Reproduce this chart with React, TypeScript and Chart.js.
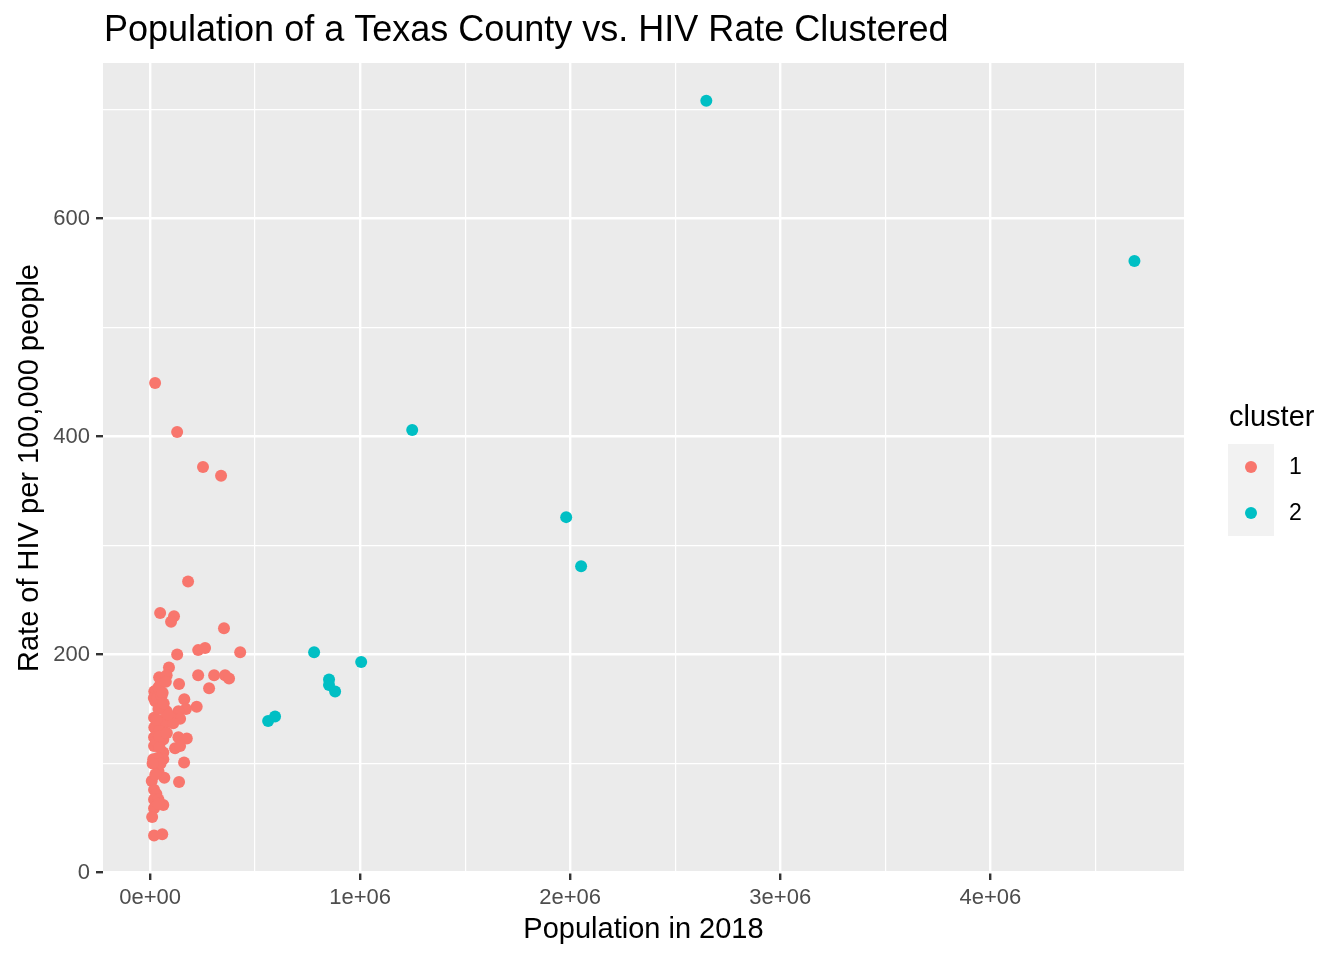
import React, { useEffect, useRef } from "react";
import { Chart, registerables } from "chart.js";

Chart.register(...registerables);

const chartTitle = "Population of a Texas County vs. HIV Rate Clustered";
const xAxisTitle = "Population in 2018";
const yAxisTitle = "Rate of HIV per 100,000 people";
const legendTitle = "cluster";
const clusterNames = ["1", "2"];
const clusterColors = ["#F8766D", "#00BFC4"];

const xTickValues = [0, 500000, 1000000, 1500000, 2000000, 2500000, 3000000, 3500000, 4000000, 4500000];
const xTickLabels: Record<number, string> = {
  0: "0e+00",
  1000000: "1e+06",
  2000000: "2e+06",
  3000000: "3e+06",
  4000000: "4e+06",
};
const yTickValues = [0, 100, 200, 300, 400, 500, 600, 700];
const yTickLabels: Record<number, string> = { 0: "0", 200: "200", 400: "400", 600: "600" };

const cluster1Population = [
  24000, 129000, 252000, 338000, 181000, 48000, 114000, 100000, 352000, 129000,
  429000, 229000, 262000, 90000, 43000, 79000, 138000, 229000, 305000, 357000,
  376000, 281000, 20000, 28000, 40000, 50000, 18000, 25000, 35000, 55000,
  60000, 163000, 222000, 171000, 79000, 135000, 143000, 19000, 56000, 95000,
  20000, 70000, 110000, 45000, 19000, 63000, 135000, 175000, 119000, 143000,
  19000, 63000, 15000, 63000, 162000, 40000, 68000, 8000, 138000, 19000,
  30000, 19000, 63000, 40000, 19000, 10000, 19000, 58000, 30000, 45000,
  35000, 50000, 45000, 80000, 85000, 40000, 12000, 25000, 40000, 30000,
  65000, 75000,
];
const cluster1Rate = [
  449, 404, 372, 364, 267, 238, 235, 230, 224, 200,
  202, 204, 206, 188, 179, 181, 173, 181, 181, 181,
  178, 169, 166, 167, 170, 173, 160, 157, 160, 162,
  165, 159, 152, 150, 148, 148, 141, 142, 140, 143,
  133, 137, 137, 130, 124, 122, 124, 123, 114, 116,
  116, 110, 104, 104, 101, 93, 87, 84, 83, 76,
  72, 67, 62, 67, 59, 51, 34, 35, 120, 115,
  105, 100, 125, 128, 145, 150, 100, 90, 63, 140,
  155, 175,
];
const cluster2Population = [2648000, 4686000, 1248000, 1981000, 2052000, 781000, 1005000, 852000, 852000, 881000, 562000, 595000];
const cluster2Rate = [708, 561, 406, 326, 281, 202, 193, 177, 172, 166, 139, 143];

const FONT = "'Liberation Sans', Arial, Helvetica, sans-serif";

export default function App() {
  const canvasRef = useRef<HTMLCanvasElement | null>(null);

  useEffect(() => {
    document.body.style.margin = "0";
    const canvas = canvasRef.current;
    if (!canvas) return;

    const toPoints = (xs: number[], ys: number[]) => xs.map((x, i) => ({ x, y: ys[i] }));

    const bgPlugin = {
      id: "ggbg",
      beforeDraw(chart: any) {
        const { ctx, chartArea } = chart;
        ctx.save();
        ctx.fillStyle = "#FFFFFF";
        ctx.fillRect(0, 0, chart.width, chart.height);
        ctx.fillStyle = "#EBEBEB";
        ctx.fillRect(chartArea.left, chartArea.top, chartArea.right - chartArea.left, chartArea.bottom - chartArea.top);
        ctx.restore();
      },
      afterDraw(chart: any) {
        const { ctx, chartArea } = chart;
        ctx.save();
        // Title
        ctx.fillStyle = "#000000";
        ctx.font = `36px ${FONT}`;
        ctx.textAlign = "left";
        ctx.textBaseline = "alphabetic";
        ctx.fillText(chartTitle, 104, 41);
        // X title
        ctx.font = `29px ${FONT}`;
        ctx.textAlign = "center";
        ctx.fillText(xAxisTitle, (chartArea.left + chartArea.right) / 2, 938);
        // Y title
        ctx.save();
        ctx.translate(38, (chartArea.top + chartArea.bottom) / 2);
        ctx.rotate(-Math.PI / 2);
        ctx.textAlign = "center";
        ctx.fillText(yAxisTitle, 0, 0);
        ctx.restore();
        // Legend
        ctx.textAlign = "left";
        ctx.font = `29px ${FONT}`;
        ctx.fillText(legendTitle, 1229, 426);
        ctx.fillStyle = "#F2F2F2";
        ctx.fillRect(1228, 444, 46, 92);
        ctx.font = `23px ${FONT}`;
        ctx.textBaseline = "middle";
        clusterNames.forEach((name, i) => {
          const cy = 467 + i * 46;
          ctx.fillStyle = clusterColors[i];
          ctx.beginPath();
          ctx.arc(1251, cy, 6, 0, Math.PI * 2);
          ctx.fill();
          ctx.fillStyle = "#000000";
          ctx.fillText(name, 1289, cy + 1);
        });
        ctx.restore();
      },
    };

    const chart = new Chart(canvas, {
      type: "scatter",
      data: {
        datasets: [
          {
            label: clusterNames[0],
            data: toPoints(cluster1Population, cluster1Rate),
            backgroundColor: clusterColors[0],
            borderWidth: 0,
            pointRadius: 6,
          },
          {
            label: clusterNames[1],
            data: toPoints(cluster2Population, cluster2Rate),
            backgroundColor: clusterColors[1],
            borderWidth: 0,
            pointRadius: 6,
          },
        ],
      },
      options: {
        responsive: false,
        animation: false,
        devicePixelRatio: 1,
        layout: { padding: { top: 63, right: 160, left: 0, bottom: 0 } },
        plugins: {
          legend: { display: false },
          title: { display: false },
          tooltip: { enabled: false },
        },
        scales: {
          x: {
            type: "linear",
            min: -224000,
            max: 4922000,
            afterBuildTicks: (scale: any) => {
              scale.ticks = xTickValues.map((v) => ({ value: v }));
            },
            afterFit: (scale: any) => {
              scale.height = 87;
            },
            ticks: {
              autoSkip: false,
              maxRotation: 0,
              padding: 5,
              color: "#4D4D4D",
              font: { family: FONT, size: 22 },
              callback: (v: any) => xTickLabels[Number(v)] ?? "",
            },
            grid: {
              color: "#FFFFFF",
              lineWidth: (c: any) => (c.tick && c.tick.value % 1000000 === 0 ? 2.4 : 1.2),
              tickColor: (c: any) => (c.tick && c.tick.value % 1000000 === 0 ? "#333333" : "rgba(0,0,0,0)"),
              tickLength: 7,
              tickWidth: 2.4,
              drawTicks: true,
            },
            border: { display: false },
          },
          y: {
            type: "linear",
            min: -0.46,
            max: 742.6,
            afterBuildTicks: (scale: any) => {
              scale.ticks = yTickValues.map((v) => ({ value: v }));
            },
            afterFit: (scale: any) => {
              scale.width = 103;
            },
            ticks: {
              autoSkip: false,
              padding: 6,
              color: "#4D4D4D",
              font: { family: FONT, size: 22 },
              callback: (v: any) => yTickLabels[Number(v)] ?? "",
            },
            grid: {
              color: "#FFFFFF",
              lineWidth: (c: any) => (c.tick && c.tick.value % 200 === 0 ? 2.4 : 1.2),
              tickColor: (c: any) => (c.tick && c.tick.value % 200 === 0 ? "#333333" : "rgba(0,0,0,0)"),
              tickLength: 7,
              tickWidth: 2.4,
              drawTicks: true,
            },
            border: { display: false },
          },
        },
      },
      plugins: [bgPlugin],
    } as any);

    return () => {
      chart.destroy();
    };
  }, []);

  return (
    <div style={{ width: 1344, height: 960 }}>
      <canvas ref={canvasRef} width={1344} height={960} style={{ display: "block" }} />
    </div>
  );
}
